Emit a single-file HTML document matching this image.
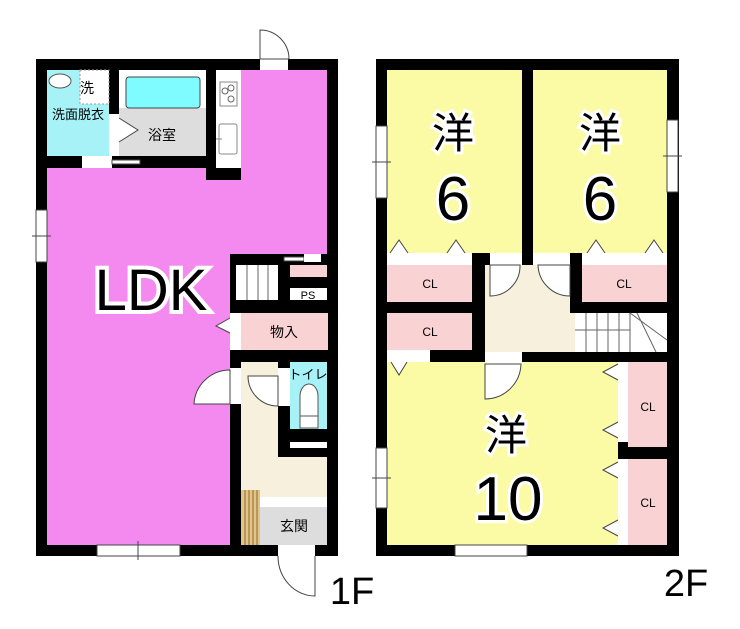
<!DOCTYPE html>
<html><head><meta charset="utf-8"><style>
html,body{margin:0;padding:0;background:#fff;width:740px;height:629px;overflow:hidden}
svg text{font-family:"Liberation Sans","Noto Sans CJK JP",sans-serif}
</style></head><body>
<svg width="740" height="629" viewBox="0 0 740 629" xmlns="http://www.w3.org/2000/svg">
<!-- ===== 1F ===== -->
<rect x="36" y="59" width="302" height="497" fill="#000"/>
<rect x="47" y="70" width="62" height="86" fill="#a6f2f7"/>
<rect x="80" y="70" width="29" height="34" fill="#fff" stroke="#999" stroke-dasharray="2,2"/>
<ellipse cx="60" cy="81" rx="11" ry="7" fill="#fff" stroke="#555"/>
<rect x="119" y="70" width="87" height="86" fill="#ddd"/>
<rect x="119" y="70" width="87" height="38" fill="#fff"/>
<rect x="126" y="77" width="74" height="31" rx="3" fill="#7ffcff" stroke="#444"/>
<rect x="109" y="114" width="10" height="42" fill="#fff"/>
<path d="M119 118 L138 130 L119 142" fill="#fff" stroke="#444"/>
<rect x="216" y="70" width="25" height="98" fill="#fff"/>
<rect x="220" y="82" width="17" height="24" fill="#fff" stroke="#888"/>
<circle cx="225" cy="91" r="3" fill="#fff" stroke="#666"/>
<circle cx="231" cy="88" r="3" fill="#fff" stroke="#666"/>
<circle cx="231" cy="99" r="3" fill="#fff" stroke="#666"/>
<rect x="219" y="124" width="18" height="30" rx="2" fill="#fff" stroke="#888"/>
<line x1="216" y1="139" x2="222" y2="139" stroke="#888"/>
<path d="M241 70 H327 V254 H230 V545 H47 V168 H206 V180 H241 Z" fill="#f48af0"/>
<rect x="82" y="156" width="30" height="12" fill="#fff"/>
<rect x="112" y="160" width="28" height="4" fill="#fff" stroke="#444" stroke-width="1"/>
<rect x="236" y="265" width="42" height="35" fill="#fff"/>
<g stroke="#666" stroke-width="1"><line x1="247" y1="265" x2="247" y2="300"/><line x1="258" y1="265" x2="258" y2="300"/><line x1="268" y1="265" x2="268" y2="300"/></g>
<rect x="290" y="265" width="37" height="12" fill="#f9d3d3"/>
<rect x="290" y="288" width="37" height="12" fill="#fff"/>
<text x="308" y="299" font-size="11" text-anchor="middle">PS</text>
<rect x="284" y="257" width="20" height="4" fill="#fff" stroke="#444"/>
<rect x="304" y="254" width="17" height="8" fill="#fff"/>
<rect x="241" y="313" width="87" height="37" fill="#f9d3d3"/>
<rect x="230" y="313" width="11" height="37" fill="#fff"/>
<path d="M230 318 L216 326 L230 333" fill="#fff" stroke="#444"/>
<text x="284" y="337" font-size="14" text-anchor="middle">物入</text>
<rect x="241" y="362" width="37" height="135" fill="#f6f0dc"/>
<rect x="278" y="457" width="49" height="40" fill="#f6f0dc"/>
<rect x="290" y="362" width="37" height="67" fill="#a6f2f7"/>
<rect x="278" y="368" width="12" height="38" fill="#fff"/>
<path d="M248 376 A30 30 0 0 0 278 406 V376 Z" fill="#fff" stroke="#444"/>
<rect x="230" y="368" width="11" height="36" fill="#fff"/>
<path d="M230 370 A36 36 0 0 0 194 404 H230 Z" fill="#fff" stroke="#444"/>
<text x="308" y="379" font-size="13" text-anchor="middle">トイレ</text>
<path d="M300 416 V396 A9 12 0 0 1 318 396 V416 Z" fill="#fff" stroke="#555"/>
<rect x="300" y="416" width="18" height="12" fill="#fff" stroke="#555"/>
<rect x="290" y="442" width="37" height="6" fill="#fff"/>
<rect x="241" y="497" width="86" height="10" fill="#fff"/>
<rect x="260" y="507" width="67" height="38" fill="#ddd"/>
<rect x="241" y="490" width="19" height="55" fill="#e2c586"/>
<g stroke="#8a6a30" stroke-width="1"><line x1="245" y1="490" x2="245" y2="545"/><line x1="249" y1="490" x2="249" y2="545"/><line x1="253" y1="490" x2="253" y2="545"/><line x1="257" y1="490" x2="257" y2="545"/></g>
<text x="294" y="531" font-size="14" text-anchor="middle">玄関</text>
<rect x="260" y="59" width="28" height="11" fill="#fff"/>
<path d="M260 59 V30 A29 29 0 0 1 289 59 Z" fill="#fff" stroke="#444"/>
<rect x="278" y="545" width="37" height="11" fill="#fff"/>
<path d="M315 556 V596 A37 40 0 0 1 278 556" fill="#fff" stroke="#444"/>
<rect x="36" y="210" width="11" height="52" fill="#fff" stroke="#444"/>
<line x1="32" y1="236" x2="51" y2="236" stroke="#444"/>
<rect x="97" y="545" width="83" height="11" fill="#fff" stroke="#444"/>
<line x1="138" y1="541" x2="138" y2="560" stroke="#444"/>
<text x="80" y="93" font-size="14">洗</text>
<text x="78" y="119" font-size="13" text-anchor="middle">洗面脱衣</text>
<text x="162" y="140" font-size="14" text-anchor="middle">浴室</text>
<text x="151" y="310" font-size="58" text-anchor="middle" fill="#000" stroke="#fff" stroke-width="8" paint-order="stroke">LDK</text>
<text x="352" y="604" font-size="38" text-anchor="middle">1F</text>

<!-- ===== 2F ===== -->
<rect x="376" y="59" width="303" height="497" fill="#000"/>
<rect x="387" y="70" width="135" height="183" fill="#fbfba6"/>
<rect x="533" y="70" width="134" height="183" fill="#fbfba6"/>
<rect x="387" y="253" width="85" height="12" fill="#fff"/>
<rect x="582" y="253" width="85" height="12" fill="#fff"/>
<g fill="#fff" stroke="#444">
<path d="M390 253 L399 240 L408 253"/><path d="M447 253 L456 240 L465 253"/>
<path d="M587 253 L596 240 L605 253"/><path d="M645 253 L654 240 L663 253"/>
</g>
<rect x="387" y="265" width="85" height="37" fill="#f9d3d3"/>
<rect x="387" y="313" width="85" height="37" fill="#f9d3d3"/>
<rect x="582" y="265" width="85" height="37" fill="#f9d3d3"/>
<text x="430" y="288" font-size="12" text-anchor="middle">CL</text>
<text x="430" y="336" font-size="12" text-anchor="middle">CL</text>
<text x="624" y="288" font-size="12" text-anchor="middle">CL</text>
<rect x="485" y="265" width="85" height="87" fill="#f6f0dc"/>
<rect x="570" y="313" width="5" height="39" fill="#f6f0dc"/>
<rect x="490" y="253" width="32" height="12" fill="#fff"/>
<path d="M490 265 V296 A30 30 0 0 0 520 265 Z" fill="#fff" stroke="#444"/>
<rect x="533" y="253" width="37" height="12" fill="#fff"/>
<path d="M570 265 V296 A32 32 0 0 1 538 265 Z" fill="#fff" stroke="#444"/>
<rect x="575" y="313" width="92" height="39" fill="#fff"/>
<g stroke="#666"><line x1="586" y1="313" x2="586" y2="352"/><line x1="597" y1="313" x2="597" y2="352"/><line x1="608" y1="313" x2="608" y2="352"/><line x1="619" y1="313" x2="619" y2="352"/><line x1="630" y1="313" x2="630" y2="352"/><line x1="575" y1="330" x2="630" y2="330"/><line x1="630" y1="313" x2="667" y2="340"/><line x1="637" y1="313" x2="656" y2="352"/></g>
<rect x="387" y="362" width="231" height="183" fill="#fbfba6"/>
<rect x="387" y="350" width="43" height="12" fill="#fff"/>
<path d="M391 362 L399 375 L407 362" fill="#fff" stroke="#444"/>
<rect x="485" y="352" width="37" height="12" fill="#fff"/>
<path d="M485 364 V399 A36 36 0 0 0 521 364 Z" fill="#fff" stroke="#444"/>
<rect x="618" y="362" width="10" height="183" fill="#fff"/>
<rect x="618" y="442" width="10" height="17" fill="#000"/>
<rect x="628" y="362" width="39" height="85" fill="#f9d3d3"/>
<rect x="628" y="459" width="39" height="86" fill="#f9d3d3"/>
<text x="648" y="411" font-size="12" text-anchor="middle">CL</text>
<text x="648" y="507" font-size="12" text-anchor="middle">CL</text>
<g fill="#fff" stroke="#444">
<path d="M618 364 L603 372 L618 380"/><path d="M618 422 L603 430 L618 438"/>
<path d="M618 462 L603 470 L618 478"/><path d="M618 520 L603 528 L618 536"/>
</g>
<rect x="376" y="126" width="11" height="72" fill="#fff" stroke="#444"/>
<line x1="372" y1="162" x2="391" y2="162" stroke="#444"/>
<rect x="667" y="120" width="11" height="72" fill="#fff" stroke="#444"/>
<line x1="663" y1="156" x2="682" y2="156" stroke="#444"/>
<rect x="376" y="448" width="11" height="60" fill="#fff" stroke="#444"/>
<line x1="372" y1="478" x2="391" y2="478" stroke="#444"/>
<rect x="455" y="545" width="72" height="11" fill="#fff" stroke="#444"/>
<g fill="#000" stroke="#fff" stroke-width="6" paint-order="stroke" text-anchor="middle">
<text x="453" y="148" font-size="42">洋</text>
<text x="453" y="220" font-size="62">6</text>
<text x="600" y="148" font-size="42">洋</text>
<text x="600" y="220" font-size="62">6</text>
<text x="506" y="450" font-size="42">洋</text>
<text x="508" y="520" font-size="62">10</text>
</g>
<text x="686" y="596" font-size="38" text-anchor="middle">2F</text>
</svg>
</body></html>
